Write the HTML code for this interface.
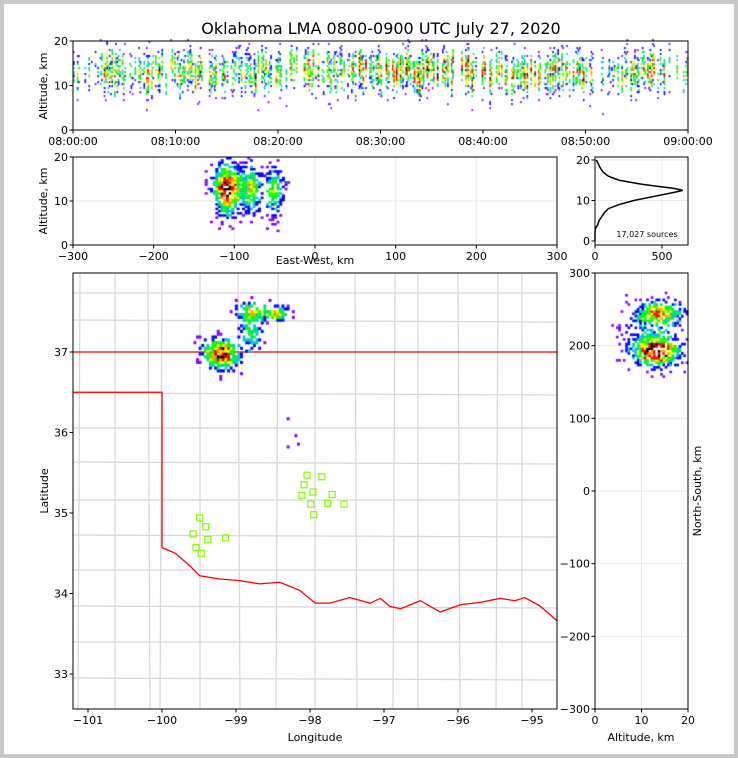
<!DOCTYPE html>
<html><head><meta charset="utf-8">
<style>
html,body{margin:0;padding:0;background:#fff}
#wrap{position:relative;width:738px;height:758px;overflow:hidden}
svg,canvas{position:absolute;left:0;top:0}
text{font-family:"DejaVu Sans","Liberation Sans",sans-serif;font-size:11px;fill:#000}
</style></head>
<body>
<div id="wrap">
<svg id="s" width="738" height="758"></svg>
<canvas id="c" width="738" height="758"></canvas>
<svg id="s2" width="738" height="758"></svg>
</div>
<script>
// ---------- data ----------
const timeTicks = ["08:00:00","08:10:00","08:20:00","08:30:00","08:40:00","08:50:00","09:00:00"];
const minuteActivity = [0.5,0.45,0.4,0.6,0.55,0.3,0.5,0.6,0.65,0.6,0.55,0.6,0.65,0.6,0.55,0.4,0.6,0.65,0.7,0.6,0.55,0.6,0.7,0.65,0.7,0.6,0.65,0.7,0.6,0.65,0.6,0.7,0.75,0.7,0.8,0.75,0.7,0.8,0.75,0.7,0.8,0.85,0.8,0.6,0.75,0.8,0.7,0.65,0.6,0.6,0.55,0.4,0.25,0.5,0.6,0.55,0.6,0.5,0.5,0.6];
const histAlt = [0,1,2,3,4,5,6,7,8,9,10,11,12,12.5,13,13.5,14,15,16,17,18,19,20];
const histCount = [0,0,0,2,20,30,50,70,100,180,290,440,590,655,590,470,350,180,100,60,40,25,10];
const mapBlobs = [ // lon, lat, sigmaLon, sigmaLat, weight
  {lon:-99.22,lat:36.96,sx:0.15,sy:0.12,w:0.85},
  {lon:-98.82,lat:37.25,sx:0.1,sy:0.18,w:0.4},
  {lon:-98.78,lat:37.5,sx:0.15,sy:0.07,w:0.4},
  {lon:-98.46,lat:37.46,sx:0.12,sy:0.06,w:0.5},
  {lon:-98.27,lat:36.1,sx:0.08,sy:0.3,w:0.05}];
const ewBlobs = [ // km, altitude km, sigmas, weight
  {x:-110,z:12.5,sx:11,sz:3.5,w:0.9},
  {x:-80,z:12.5,sx:7,sz:3.5,w:0.55},
  {x:-52,z:12,sx:8,sz:3.5,w:0.45}];
const nsBlobs = [ // altitude km, NS km
  {z:13,y:190,sz:3,sy:11,w:0.9},
  {z:14,y:244,sz:3,sy:9,w:0.6},
  {z:12,y:215,sz:4,sy:25,w:0.25}];
const stationLon = [-98.04,-97.84,-98.08,-97.96,-97.7,-98.11,-97.99,-97.76,-97.54,-97.95,-99.49,-99.41,-99.58,-99.38,-99.14,-99.54,-99.47];
const stationLat = [35.47,35.45,35.35,35.26,35.23,35.22,35.11,35.12,35.11,34.98,34.94,34.83,34.74,34.67,34.69,34.57,34.5];
const redRiver = [[-100,34.57],[-99.82,34.5],[-99.62,34.34],[-99.49,34.22],[-99.22,34.18],[-98.95,34.16],[-98.68,34.12],[-98.41,34.14],[-98.14,34.04],[-97.93,33.88],[-97.73,33.88],[-97.46,33.95],[-97.19,33.88],[-97.05,33.94],[-96.92,33.84],[-96.78,33.81],[-96.51,33.91],[-96.24,33.77],[-95.97,33.86],[-95.7,33.89],[-95.43,33.94],[-95.23,33.91],[-95.1,33.95],[-94.9,33.85],[-94.66,33.66]];

// ---------- helpers ----------
const NS='http://www.w3.org/2000/svg';
const S=document.getElementById('s'), S2=document.getElementById('s2');
function el(parent,tag,attrs,txt){const e=document.createElementNS(NS,tag);for(const k in attrs)e.setAttribute(k,attrs[k]);if(txt!==undefined)e.textContent=txt;parent.appendChild(e);return e;}
function lin(d0,d1,r0,r1){return v=>r0+(v-d0)*(r1-r0)/(d1-d0);}
const ctx=document.getElementById('c').getContext('2d');
function hash(a,b,c){let h=(a*374761393+b*668265263+c*2147483647)|0;h=(h^(h>>>13))*1274126177|0;return ((h^(h>>>16))>>>0)/4294967296;}
function col(d){if(d>0.95)return '#ffffff';if(d>0.82)return '#000000';if(d>0.64)return '#ff0000';if(d>0.54)return '#ffa500';if(d>0.45)return '#ffff00';if(d>0.3)return '#00ff00';if(d>0.2)return '#00c8c8';if(d>0.08)return '#0000ff';return '#8000ff';}

el(S,'rect',{x:0,y:0,width:738,height:758,fill:'#c8c8c8'});
el(S,'rect',{x:4,y:4,width:730,height:750,fill:'#fff'});
el(S,'text',{x:381,y:34,'text-anchor':'middle',style:'font-size:16px'},'Oklahoma LMA 0800-0900 UTC July 27, 2020');

function axes(name,x0,y0,x1,y1,xt,yt){
  const g=el(S2,'g',{});
  el(g,'rect',{x:x0,y:y0,width:x1-x0,height:y1-y0,fill:'none',stroke:'#000','stroke-width':1});
  xt.forEach(t=>{el(g,'line',{x1:t[0],x2:t[0],y1:y1,y2:y1+3.5,stroke:'#000'});el(g,'text',{x:t[0],y:y1+15,'text-anchor':'middle'},t[1]);});
  yt.forEach(t=>{el(g,'line',{x1:x0,x2:x0-3.5,y1:t[0],y2:t[0],stroke:'#000'});el(g,'text',{x:x0-5,y:t[0]+4,'text-anchor':'end'},t[1]);});
}
function grid(x0,y0,x1,y1,xs,ys){xs.forEach(x=>el(S,'line',{x1:x,x2:x,y1:y0,y2:y1,stroke:'#e8e8e8'}));ys.forEach(y=>el(S,'line',{x1:x0,x2:x1,y1:y,y2:y,stroke:'#e8e8e8'}));}

// ---------- panel 1: time-height ----------
const tX=lin(0,60,73,688), tY=lin(0,20,130,41);
for(let m=0;m<60;m++){for(let s=0;s<8;s++){const t=m+s/8;const a=minuteActivity[m];
  const colAct=hash(m,s,77); if(colAct>0.6) continue;
  const cen=11+hash(s,m,5)*4, amp=a*(0.5+0.7*hash(m,s,9));
  for(let z=2;z<20;z+=0.45){let d=amp*Math.exp(-Math.pow((z-cen)/3.6,2));const h=hash(m*8+s,Math.round(z*10),1);
    if(h<d*1.3){ctx.fillStyle=col(Math.min(1,d*(0.5+hash(m,s,Math.round(z*10))*0.8)));ctx.fillRect(tX(t),tY(z+0.45),1.6,2.1);}}}}
axes('time-height-axes',73,41,688,130,timeTicks.map((l,i)=>[tX(i*10),l]),[[tY(0),'0'],[tY(10),'10'],[tY(20),'20']]);
el(S2,'text',{x:47,y:86,'text-anchor':'middle',transform:'rotate(-90 47 86)'},'Altitude, km');

// ---------- panel 2: EW-height ----------
const eX=lin(-300,300,73,557), eY=lin(0,20,245,157);
grid(73,157,557,245,[-200,-100,0,100,200].map(eX),[10].map(eY));
function density(blobs,bx0,bx1,by0,by1,step,fx,fy,px,py,seed,gain){
  for(let i=0,x=bx0;x<bx1;x+=step[0],i++){for(let j=0,y=by0;y<by1;y+=step[1],j++){
    let d=0;blobs.forEach(b=>{d+=b.w*Math.exp(-0.5*(Math.pow((x-fx(b))/b.sa,2)+Math.pow((y-fy(b))/b.sb,2)));});
    const h=hash(i,j,seed);if(d>0.01&&h<Math.min(0.85,d*gain)){ctx.fillStyle=col(Math.min(1,d*(0.6+0.6*hash(j,i,seed+7))));ctx.fillRect(px(x),py(y+step[1]),px(x+step[0])-px(x)+0.3,Math.abs(py(y)-py(y+step[1]))+0.3);}}}}
ewBlobs.forEach(b=>{b.sa=b.sx;b.sb=b.sz;});
density(ewBlobs,-140,-20,3,20,[3.3,0.5],b=>b.x,b=>b.z,eX,eY,3,2.0);
axes('ew-height-axes',73,157,557,245,[-300,-200,-100,0,100,200,300].map(v=>[eX(v),v<0?'\u2212'+(-v):''+v]),[[eY(0),'0'],[eY(10),'10'],[eY(20),'20']]);
el(S2,'text',{x:47,y:201,'text-anchor':'middle',transform:'rotate(-90 47 201)'},'Altitude, km');
el(S2,'text',{x:315,y:264,'text-anchor':'middle'},'East-West, km');

// ---------- panel 3: histogram ----------
const hX=lin(0,500,595,662), hY=lin(0,20,241,160);
grid(595,157,688,245,[500].map(hX),[0,10,20].map(hY));
const hp=histAlt.map((a,i)=>hX(histCount[i])+','+hY(a)).join(' ');
const hl=el(S,'polyline',{points:hp,fill:'none',stroke:'#000','stroke-width':1.5});
axes('histogram-axes',595,157,688,245,[[hX(0),'0'],[hX(500),'500']],[[hY(0),'0'],[hY(10),'10'],[hY(20),'20']]);
el(S2,'text',{x:647,y:237,'text-anchor':'middle',style:'font-size:8px'},'17,027 sources');

// ---------- panel 4: map ----------
const mX=lin(-101,-95,88,532), mY=lin(37,33,352,674);
const mg=el(S,'g',{});
const vx=[80,115,148,162,200,238,278,315,355,395,418,458,498,522];
const hy=[293,320,352,393,428,462,500,535,570,606,642,678];
vx.forEach((x,i)=>el(mg,'line',{x1:x,x2:x+(i%3-1)*2,y1:273,y2:709,stroke:'#d6d6d6','stroke-width':1.2}));
hy.forEach((y,i)=>el(mg,'line',{x1:73,x2:557,y1:y,y2:y+(i%2)*2,stroke:'#d6d6d6','stroke-width':1.2}));
const sg=el(S,'g',{fill:'none',stroke:'#ff0000','stroke-width':1.3});
el(sg,'polyline',{points:[[73,mY(37)],[557,mY(37)]].join(' ')});
el(sg,'polyline',{points:[[73,mY(36.5)],[mX(-100),mY(36.5)],[mX(-100),mY(34.57)]].join(' ')});
el(sg,'polyline',{points:redRiver.map(p=>mX(p[0])+','+mY(p[1])).join(' ')});
mapBlobs.forEach(b=>{b.sa=b.sx;b.sb=b.sy;});
density(mapBlobs,-99.75,-98.0,35.7,37.9,[0.035,0.035],b=>b.lon,b=>b.lat,mX,mY,5,1.8);
const stg=el(S2,'g',{});
stationLon.forEach((lo,i)=>{const r=el(stg,'rect',{x:mX(lo)-3,y:mY(stationLat[i])-3,width:6,height:6,fill:'none',stroke:'#7fff00','stroke-width':1.2});});
axes('map-axes',73,273,557,709,[-101,-100,-99,-98,-97,-96,-95].map(v=>[mX(v),'\u2212'+(-v)]),[33,34,35,36,37].map(v=>[mY(v),''+v]));
el(S2,'text',{x:48,y:491,'text-anchor':'middle',transform:'rotate(-90 48 491)'},'Latitude');
el(S2,'text',{x:315,y:741,'text-anchor':'middle'},'Longitude');

// ---------- panel 5: NS-height ----------
const nX=lin(0,20,595,688), nY=lin(-300,300,709,273);
grid(595,273,688,709,[10].map(nX),[-200,-100,0,100,200].map(nY));
nsBlobs.forEach(b=>{b.sa=b.sz;b.sb=b.sy;});
density(nsBlobs,3,20,140,280,[0.5,3.2],b=>b.z,b=>b.y,nX,nY,9,2.0);
axes('ns-height-axes',595,273,688,709,[[nX(0),'0'],[nX(10),'10'],[nX(20),'20']],[300,200,100,0,-100,-200,-300].map(v=>[nY(v),v<0?'\u2212'+(-v):''+v]));
el(S2,'text',{x:641,y:741,'text-anchor':'middle'},'Altitude, km');
el(S2,'text',{x:701,y:491,'text-anchor':'middle',transform:'rotate(-90 701 491)'},'North-South, km');
</script>
</body></html>
